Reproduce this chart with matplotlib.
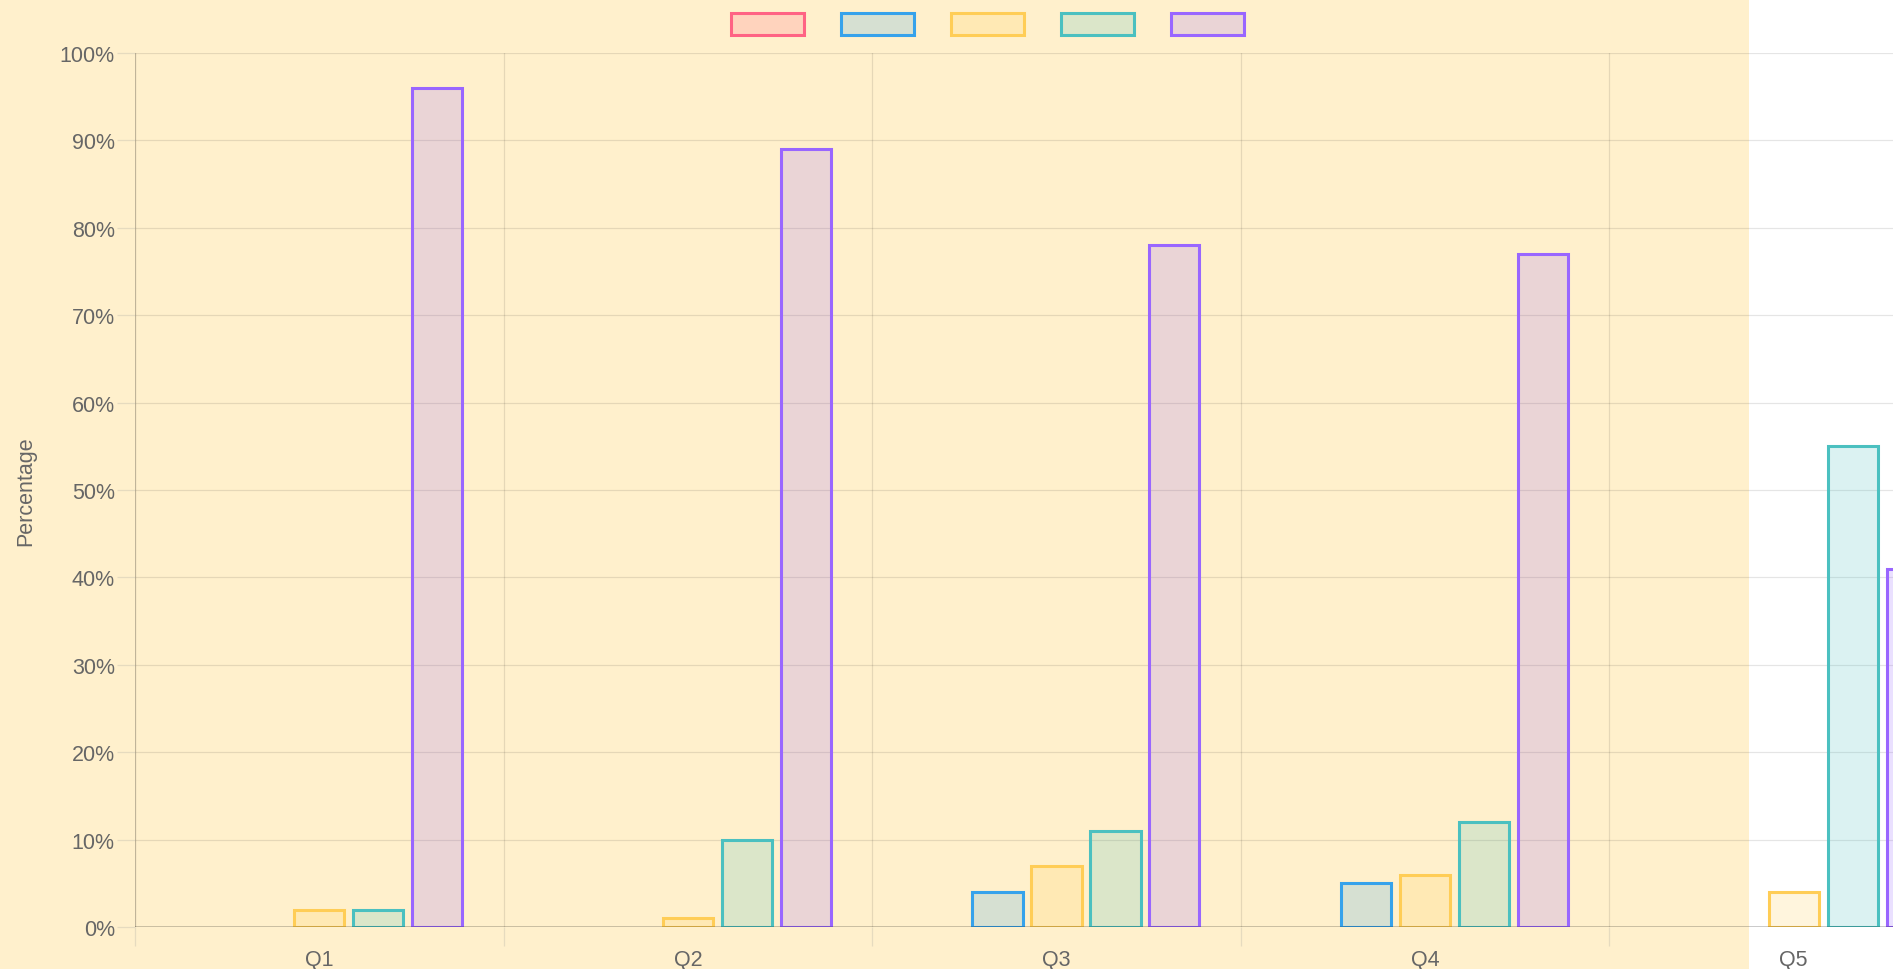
import matplotlib.pyplot as plt
from matplotlib.patches import Rectangle
import numpy as np

# Data
quarters = ['Q1', 'Q2', 'Q3', 'Q4', 'Q5']
series_red = [0, 0, 0, 0, 0]
series_blue = [0, 0, 4, 5, 0]
series_yellow = [2, 1, 7, 6, 4]
series_teal = [2, 10, 11, 12, 55]
series_purple = [96, 89, 78, 77, 41]
yticks = list(range(0, 101, 10))

colors = [(255, 99, 132), (54, 162, 235), (255, 205, 86), (75, 192, 192), (153, 102, 255)]
colors = [tuple(c / 255 for c in col) for col in colors]
all_series = [series_red, series_blue, series_yellow, series_teal, series_purple]

plt.rcParams['font.family'] = ['Liberation Sans', 'DejaVu Sans']

W, H = 1893, 970
fig = plt.figure(figsize=(W / 100, H / 100), dpi=100)
fig.patch.set_facecolor('white')

# yellow background behind the chart
bg = Rectangle((0, 0), 1749 / W, 1, transform=fig.transFigure,
               facecolor=(255 / 255, 240 / 255, 204 / 255), edgecolor='none', zorder=-5)
fig.add_artist(bg)

cat_px = 368.6
ax = fig.add_axes([135 / W, (H - 928) / H, 1 - 135 / W, (928 - 54) / H])
ax.set_facecolor('none')

x = np.arange(len(quarters))
n = len(all_series)
for i, (vals, col) in enumerate(zip(all_series, colors)):
    xs = x + (i - (n - 1) / 2) * 0.16
    for xv, v in zip(xs, vals):
        if v <= 0:
            continue
        ax.bar(xv, v, width=0.144 - 3 / cat_px, color=col + (0.2,), edgecolor=col,
               linewidth=2.2, zorder=3)

ax.set_yticks(yticks)
ax.set_yticklabels([f'{t}%' for t in yticks])
ax.set_xticks(np.arange(-0.5, len(quarters) + 0.5, 1))
ax.set_xticklabels([])
ax.set_xticks(x, minor=True)
ax.set_xticklabels(quarters, minor=True)
ax.set_xlim(-0.5, -0.5 + (W - 135) / cat_px)
ax.set_ylim(0, 100)

ax.grid(True, which='major', color='black', alpha=0.1, linewidth=0.9)
tick_col = (0.9, 0.86, 0.75)
ax.tick_params(axis='y', which='major', length=13, width=0.9, color=tick_col,
               pad=1.5, labelsize=15.5, labelcolor='#666666')
ax.tick_params(axis='x', which='major', length=14, width=0.9, color=tick_col)
ax.tick_params(axis='x', which='minor', length=0, pad=16, labelsize=15.5, labelcolor='#666666')
for s in ax.spines.values():
    s.set_visible(False)
ax.axhline(0, color='black', alpha=0.25, linewidth=1.1, zorder=4)
ax.axvline(-0.5, color='black', alpha=0.16, linewidth=0.9, zorder=2)

ax.set_ylabel('Percentage', fontsize=15.5, color='#666666')
ax.yaxis.set_label_coords(-0.0563, 0.5)

# legend boxes (labels are empty)
for i, col in enumerate(colors):
    x0 = 731 + i * 109.9
    box = Rectangle((x0 / W, 1 - 36 / H), 73 / W, 22 / H, transform=fig.transFigure,
                    facecolor=col + (0.2,), edgecolor=col, linewidth=2.2)
    fig.add_artist(box)

fig.savefig('out.png', dpi=100)
